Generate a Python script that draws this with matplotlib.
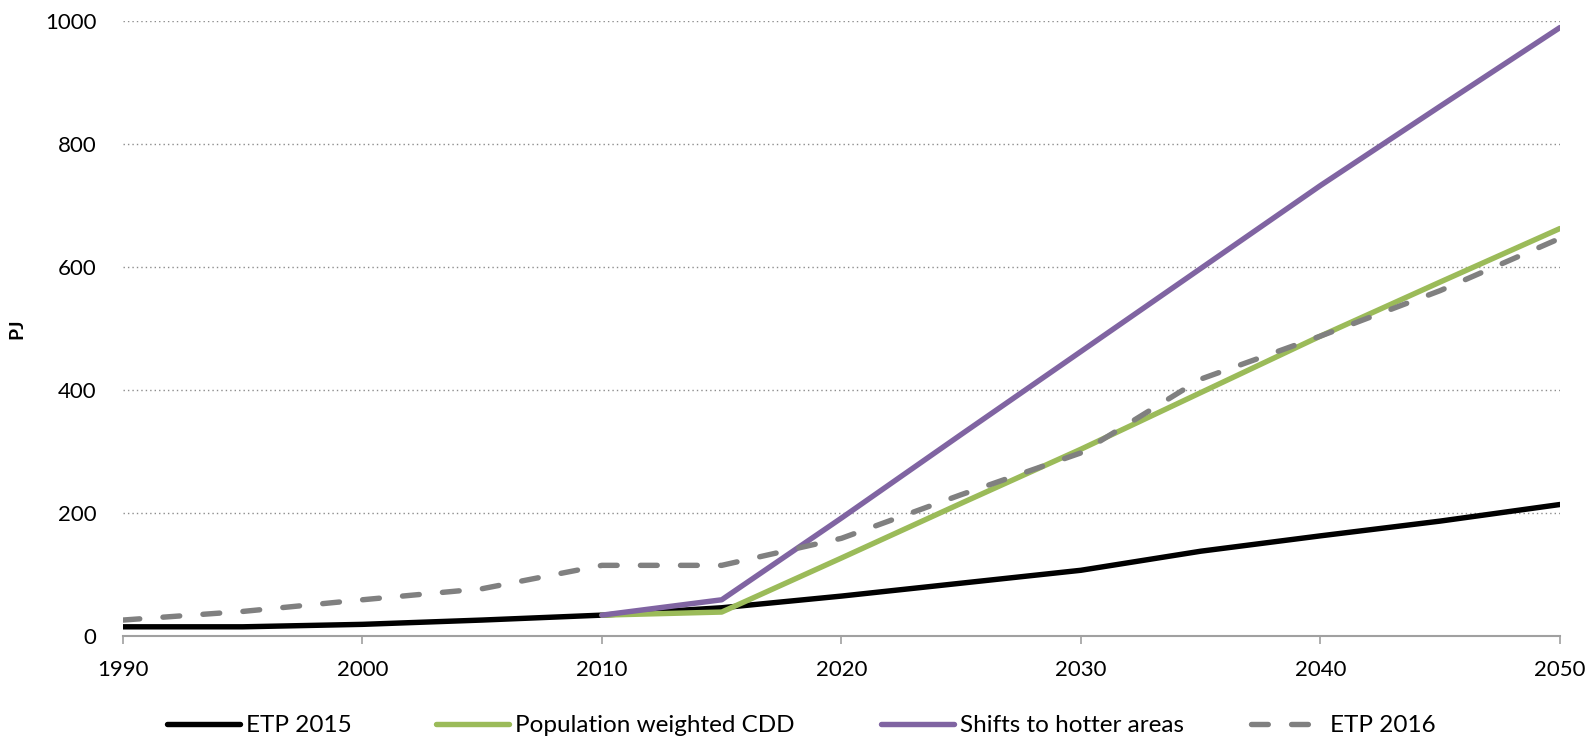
import matplotlib
matplotlib.use("Agg")
import matplotlib.pyplot as plt

plt.rcParams['font.family'] = ['Lato', 'DejaVu Sans']

years = [1990, 1995, 2000, 2005, 2010, 2015, 2020, 2025, 2030, 2035, 2040, 2045, 2050]
etp2015 = [15, 15, 19, 26, 34, 46, 65, 86, 107, 138, 163, 187, 214]
etp2016 = [26, 40, 59, 77, 115, 115, 159, 230, 298, 418, 488, 562, 647]

proj_years = [2010, 2015, 2020, 2025, 2030, 2035, 2040, 2045, 2050]
pop_weighted_cdd = [34, 39, 127, 216, 304, 396, 488, 576, 663]
shifts_hotter = [34, 59, 192, 328, 463, 598, 733, 862, 990]

series_labels = ["ETP 2015", "Population weighted CDD", "Shifts to hotter areas", "ETP 2016"]
y_ticks = [0, 200, 400, 600, 800, 1000]
x_ticks = [1990, 2000, 2010, 2020, 2030, 2040, 2050]

W, H = 1591, 737
fig = plt.figure(figsize=(W / 100, H / 100), dpi=100)
ax = fig.add_axes([0.0773, 0.137, 0.9032, 0.834])

lw = 3.9
l1, = ax.plot(years, etp2015, color="#000000", lw=lw, solid_capstyle="round", zorder=3)
l2, = ax.plot(proj_years, pop_weighted_cdd, color="#9BBB59", lw=lw, solid_capstyle="round", zorder=4)
l3, = ax.plot(proj_years, shifts_hotter, color="#8064A2", lw=lw, solid_capstyle="round", zorder=5)
l4, = ax.plot(years, etp2016, color="#808080", lw=lw, dash_capstyle="round",
              dashes=(3.1, 4.3), zorder=6)

ax.set_xlim(1990, 2050)
ax.set_ylim(0, 1000)
ax.set_xticks(x_ticks)
ax.set_yticks(y_ticks)
ax.tick_params(axis="x", direction="out", length=5.5, width=1.2, color="#a0a0a0",
               labelsize=16, pad=12)
ax.tick_params(axis="y", length=0, labelsize=16, pad=19)

for s in ["top", "right", "left"]:
    ax.spines[s].set_visible(False)
ax.spines["bottom"].set_color("#a0a0a0")
ax.spines["bottom"].set_linewidth(1.5)

for v in y_ticks[1:]:
    ax.axhline(v, color="#8c8c8c", lw=1.0, ls=(0, (1, 2.2)), zorder=1)

ax.set_ylabel("PJ", fontsize=14, fontweight="bold")
ax.yaxis.set_label_coords(-0.068, 0.5)

# one legend entry per slot along the bottom
handles = [l1, l2, l3, l4]
slot_x = [167, 436, 881, 1251]
for h, lab, x in zip(handles, series_labels, slot_x):
    fig.legend([h], [lab], loc="center left", bbox_to_anchor=(x / W, 0.015),
               frameon=False, fontsize=17.5, handlelength=3.0, handletextpad=0.25,
               borderpad=0, borderaxespad=0)

fig.savefig("out.png", dpi=100)
